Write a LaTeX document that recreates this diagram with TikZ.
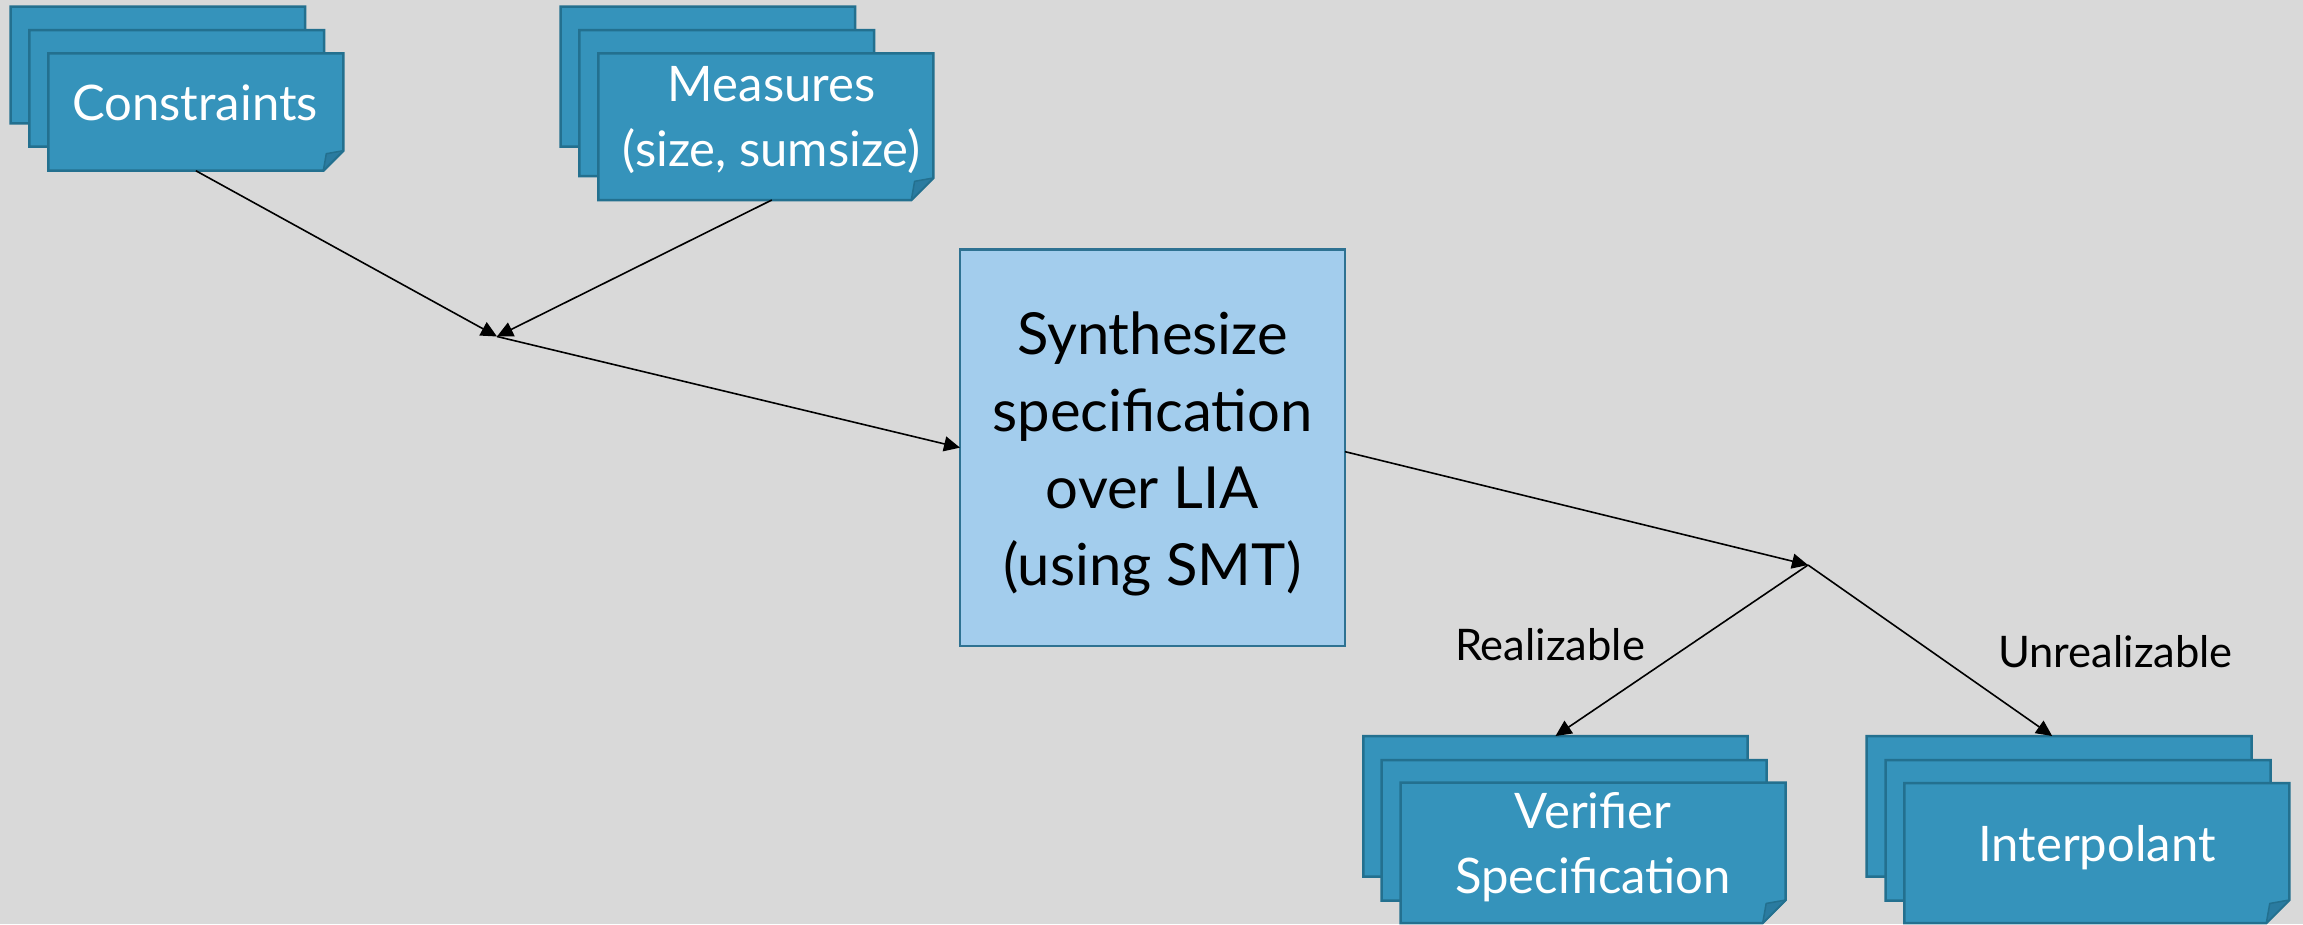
\documentclass[tikz,border=0pt]{standalone}
\usepackage{fontspec}
\setmainfont{Lato}
\usetikzlibrary{arrows.meta,fit}

\definecolor{canvas}{HTML}{D9D9D9}
\definecolor{cardfill}{HTML}{3593BB}
\definecolor{cardedge}{HTML}{23708F}
\definecolor{foldfill}{HTML}{2A7BA0}
\definecolor{synthfill}{HTML}{A3CDED}
\definecolor{synthedge}{HTML}{2E7292}

\tikzset{
  area/.style={fit={#1}, inner sep=0pt, outer sep=0pt},
  cardline/.style={fill=cardfill, draw=cardedge, line width=2.5pt, line join=miter},
  foldline/.style={fill=foldfill, draw=cardedge, line width=1.5pt, line join=round},
  synthbox/.style={fill=synthfill, draw=synthedge, line width=2.5pt},
  cardtext/.style={text=white, align=center, inner sep=0pt,
    font=\fontsize{49}{65}\selectfont},
  synthtext/.style={text=black, align=center, inner sep=0pt,
    font=\fontsize{58}{77}\selectfont},
  labeltext/.style={text=black, inner sep=0pt, font=\fontsize{43.5}{52}\selectfont},
  conn/.style={draw=black, line width=1.6pt,
    -{Triangle[length=16pt,width=15pt]}},
}

% a card with a folded lower right corner, drawn over the area of node #1
\newcommand\foldcard[2]{%
  \path[cardline] (#1.north west) -- (#1.north east) -- ([yshift=#2]#1.south east)
    -- ([xshift=-#2]#1.south east) -- (#1.south west) -- cycle;
  \path[foldline] ([yshift=#2]#1.south east) -- ([xshift=-#2]#1.south east)
    -- ([xshift=-0.85*#2, yshift=0.85*#2]#1.south east) -- cycle;
}

\begin{document}
\begin{tikzpicture}[x=1pt,y=-1pt]
  \useasboundingbox (0,0) rectangle (2303,924);
  \fill[canvas] (0,0) rectangle (2303,924);

  % card areas
  \node[area={(10.7,6.7) (305,123.3)}]     (consA) {};
  \node[area={(29.3,30) (324,146.7)}]      (consB) {};
  \node[area={(48.3,53.3) (343.3,170.7)}]  (consF) {};
  \node[area={(560.7,6.7) (855,146.7)}]    (measA) {};
  \node[area={(579.3,30) (874,176)}]       (measB) {};
  \node[area={(598.3,53.3) (933.3,200)}]   (measF) {};
  \node[area={(1363.3,736) (1747.7,876.7)}]  (verA) {};
  \node[area={(1381.7,760) (1766.7,900.7)}]  (verB) {};
  \node[area={(1400.7,782.7) (1785.7,923)}]  (verF) {};
  \node[area={(1866.7,736) (2251.7,876.7)}]  (intA) {};
  \node[area={(1885.7,760) (2270.7,900.7)}]  (intB) {};
  \node[area={(1904.3,783) (2289.3,923)}]    (intF) {};

  % stacked cards, back to front
  \foldcard{consA}{20}\foldcard{consB}{20}\foldcard{consF}{20}
  \foldcard{measA}{22}\foldcard{measB}{22}\foldcard{measF}{22}
  \foldcard{verA}{23}\foldcard{verB}{23}\foldcard{verF}{23}
  \foldcard{intA}{23}\foldcard{intB}{23}\foldcard{intF}{23}

  % central step
  \node[synthbox, area={(960,249.3) (1345,646)}] (synth) {};

  % texts (multi-line nodes are placed by the baseline of their last line)
  \node[cardtext, anchor=base] (consT) at (195,120) {Constraints};
  \node[cardtext, anchor=base] (measT) at (771.7,166.7) {Measures\\(size, sumsize)};
  \node[cardtext, anchor=base] (verT) at (1593,893) {Verifier\\Specification};
  \node[cardtext, anchor=base] (intT) at (2097,861.7) {Interpolant};
  \node[synthtext, anchor=base] (synthT) at (1152.5,585)
    {Synthesize\\specification\\over LIA\\(using SMT)};
  \node[labeltext, anchor=base] (realT) at (1550,660) {Realizable};
  \node[labeltext, anchor=base] (unrealT) at (2115.5,667.3) {Unrealizable};

  % junctions
  \coordinate (j1) at (497,336.5);
  \coordinate (j2) at (1808,565);

  % connectors
  \draw[conn] (consF.south) -- (j1);
  \draw[conn] ([xshift=6pt]measF.south) -- (j1);
  \draw[conn] (j1) -- (synth.west);
  \draw[conn] ([yshift=-4pt]synth.east) -- (j2);
  \draw[conn] (j2) -- (verA.north);
  \draw[conn] (j2) -- ([xshift=-7pt]intA.north);
\end{tikzpicture}
\end{document}
